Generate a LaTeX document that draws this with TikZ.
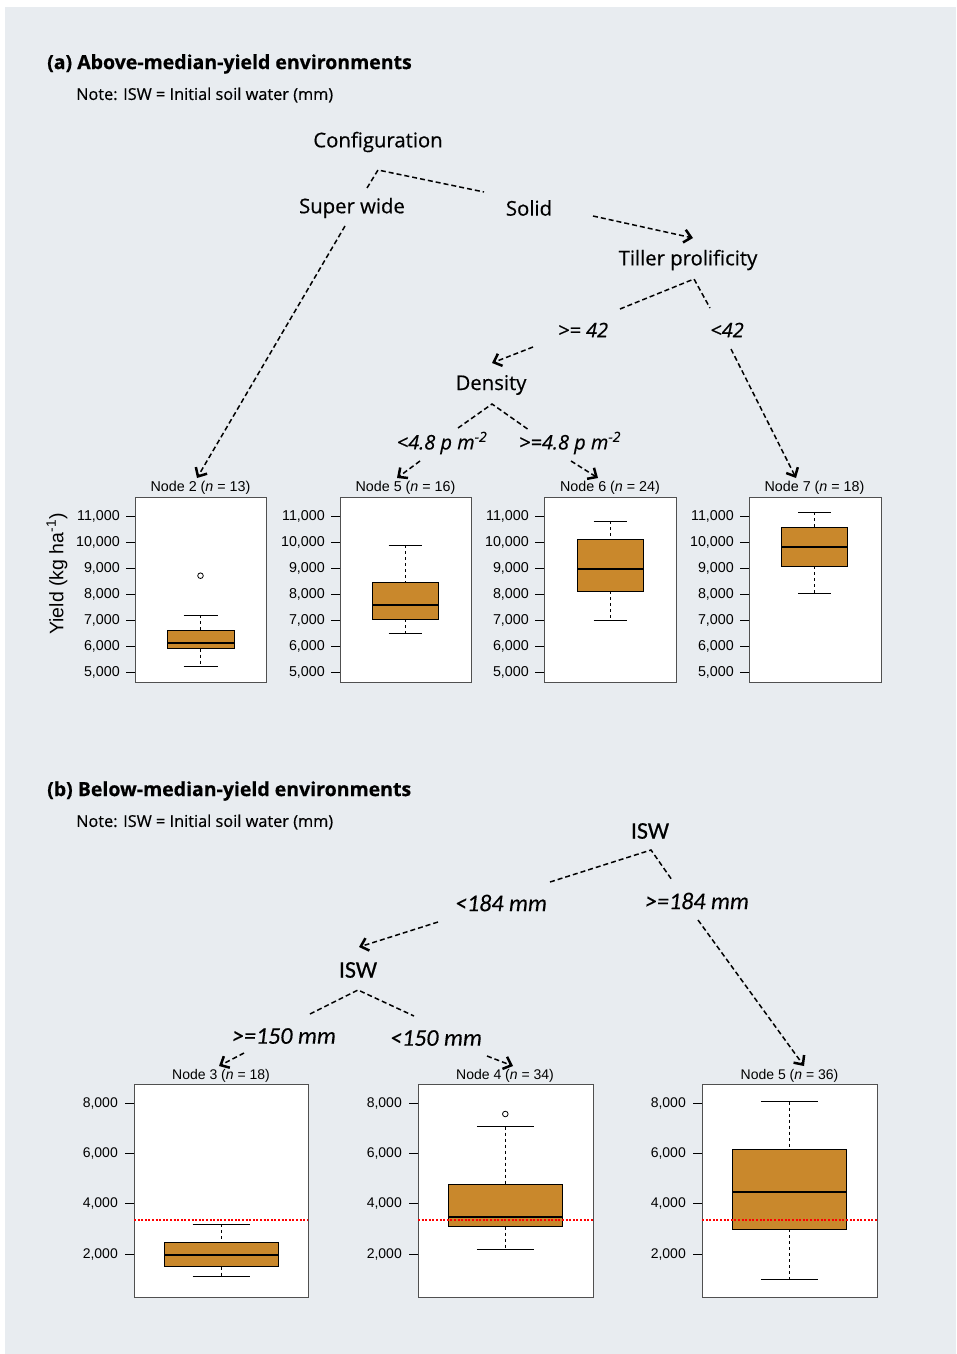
\documentclass[tikz,border=0pt]{standalone}
\usepackage{fontspec}
\setmainfont{Open Sans}[FakeBold=0.5]
\newfontfamily\treefont{Open Sans}[FakeBold=0.5]
\newfontfamily\plotfont{Liberation Sans}
\newfontfamily\calfont{Carlito}[FakeBold=0.3]
\usetikzlibrary{arrows.meta}
\definecolor{panelgray}{RGB}{232,236,240}
\definecolor{boxfill}{RGB}{201,136,44}
\definecolor{framegray}{RGB}{80,80,80}

% centre x, box half width, cap half width, whisker top, box top, median, box bottom, whisker bottom
\newcommand{\boxplt}[8]{%
  \draw[whisk] (#1,#4) -- (#1,#5) (#1,#7) -- (#1,#8);
  \draw[bxcap] (#1-#3,#4) -- (#1+#3,#4) (#1-#3,#8) -- (#1+#3,#8);
  \filldraw[bxbody] (#1-#2,#5) rectangle (#1+#2,#7);
  \draw[bxmed] (#1-#2,#6) -- (#1+#2,#6);}

\begin{document}
\begin{tikzpicture}[x=1pt,y=-1pt,
    split/.style={draw=black,line width=1.5pt,dash pattern=on 5pt off 3pt},
    arr/.style={split,-{Straight Barb[length=7pt,width=13pt,line width=2.5pt]}},
    frame/.style={draw=framegray,line width=1pt,fill=white},
    whisk/.style={draw=black,line width=0.8pt,dash pattern=on 3pt off 3pt},
    bxcap/.style={draw=black,line width=1pt},
    bxbody/.style={draw=black,line width=1pt,fill=boxfill},
    bxmed/.style={draw=black,line width=1.7pt},
    outl/.style={draw=black,line width=0.8pt,fill=white},
    cutoff/.style={draw=red,line width=2pt,dash pattern=on 2pt off 1.6pt},
    tick/.style={draw=black,line width=1pt}]

    \useasboundingbox (0,0) rectangle (956,1354);
    \fill[panelgray] (5,7) rectangle (956,1354);

    % (a) headings
    \node[anchor=west,inner sep=0,font=\fontsize{19.5}{23}\selectfont\bfseries] (ta) at (47,64) {(a) Above-median-yield environments};
    \node[anchor=west,inner sep=0,font=\fontsize{16.3}{19}\treefont] (na) at (76,95) {Note: ISW = Initial soil water (mm)};

    % (a) tree
    \begin{scope}[
        every node/.style={inner sep=1pt,font=\fontsize{20.3}{24}\treefont}
    ]
        \node (cfg) at (378,142) {Configuration};
        \node (sw) at (352,208) {Super wide};
        \node (sol) at (529,208) {Solid};
        \node (till) at (688,260) {Tiller prolificity};
        \node (dens) at (491,385) {Density};
    \end{scope}
    \begin{scope}[
        every node/.style={inner sep=1pt,font=\fontsize{20}{24}\treefont\itshape}
    ]
        \node (ge42) at (583,330) {>= 42};
        \node (lt42) at (727,330) {<42};
        \node (lt48) at (442,443) {<4.8 p m\textsuperscript{-2}};
        \node (ge48) at (570,443) {>=4.8 p m\textsuperscript{-2}};
    \end{scope}

    \coordinate (cfgL) at (367,188);
    \coordinate (cfgA) at (378,170);
    \coordinate (cfgR) at (484,192);
    \coordinate (tilL) at (620,309);
    \coordinate (tilA) at (694,279);
    \coordinate (tilR) at (710,308);
    \coordinate (denL) at (458,428);
    \coordinate (denA) at (492,404);
    \coordinate (denR) at (529,430);
    \draw[split] (cfgL) -- (cfgA) -- (cfgR);
    \draw[split] (tilL) -- (tilA) -- (tilR);
    \draw[split] (denL) -- (denA) -- (denR);

    \coordinate (swS) at (345,226);
    \coordinate (solS) at (593,216);
    \coordinate (tilN) at (693,238);
    \coordinate (ge42S) at (533,347);
    \coordinate (densN) at (492,363);
    \coordinate (lt42S) at (731,349);
    \coordinate (lt48S) at (420,461);
    \coordinate (ge48S) at (571,461);
    \coordinate (n2N) at (197,478);
    \coordinate (n5N) at (397,478);
    \coordinate (n6N) at (598,478);
    \coordinate (n7N) at (796,478);
    \draw[arr] (swS) -- (n2N);
    \draw[arr] (solS) -- (tilN);
    \draw[arr] (ge42S) -- (densN);
    \draw[arr] (lt42S) -- (n7N);
    \draw[arr] (lt48S) -- (n5N);
    \draw[arr] (ge48S) -- (n6N);

    % (a) boxplots
    \begin{scope}[
        every node/.style={inner sep=0,font=\fontsize{14.3}{17}\plotfont}
    ]
        \node (t2) at (200.5,488) {Node 2 (\textit{n} = 13)};
        \node (t5) at (405.5,488) {Node 5 (\textit{n} = 16)};
        \node (t6) at (610,488) {Node 6 (\textit{n} = 24)};
        \node (t7) at (814.5,488) {Node 7 (\textit{n} = 18)};
        \node[rotate=90,font=\fontsize{19.5}{22}\plotfont] (ylab) at (57,574) {Yield (kg ha\textsuperscript{-1})};

        \draw[frame] (135,497) rectangle (266,682);
        \draw[frame] (340,497) rectangle (471,682);
        \draw[frame] (544,497) rectangle (676,682);
        \draw[frame] (749,497) rectangle (881,682);
        \foreach \fx in {135,340,544,749} {
            \foreach \v in {5,...,11} {
                \draw[tick] (\fx,{672-(\v-5)*26}) -- ++(-9,0);
                \node[anchor=east] at (\fx-15,{672-(\v-5)*26}) {\v,000};
            }
        }
    \end{scope}
    \boxplt{200.5}{33.5}{17}{615}{630}{643}{648.5}{666}
    \draw[outl] (200.5,575.7) circle (2.8);
    \boxplt{405}{33}{16.5}{545}{582}{605}{619}{633}
    \boxplt{610}{33}{16.5}{521}{539}{569}{591}{620}
    \boxplt{814.5}{33.2}{16.5}{512}{527}{547.3}{566.3}{593}

    % (b) headings
    \node[anchor=west,inner sep=0,font=\fontsize{19.5}{23}\selectfont\bfseries] (tb) at (47,791) {(b) Below-median-yield environments};
    \node[anchor=west,inner sep=0,font=\fontsize{16.3}{19}\treefont] (nb) at (76,822) {Note: ISW = Initial soil water (mm)};

    % (b) tree
    \begin{scope}[
        every node/.style={inner sep=1pt,font=\fontsize{24}{28}\calfont}
    ]
        \node (isw1) at (650,831) {ISW};
        \node (isw2) at (358,970) {ISW};
        \node[font=\fontsize{24}{28}\calfont\itshape] (lt184) at (501,903) {<184 mm};
        \node[font=\fontsize{24}{28}\calfont\itshape] (ge184) at (697,901) {>=184 mm};
        \node[font=\fontsize{24}{28}\calfont\itshape] (ge150) at (284,1036) {>=150 mm};
        \node[font=\fontsize{24}{28}\calfont\itshape] (lt150) at (436,1038) {<150 mm};
    \end{scope}

    \coordinate (iswL) at (550,882);
    \coordinate (iswA) at (651,850);
    \coordinate (iswR) at (672,880);
    \coordinate (isw2L) at (310,1014);
    \coordinate (isw2A) at (358,990);
    \coordinate (isw2R) at (414,1016);
    \draw[split] (iswL) -- (iswA) -- (iswR);
    \draw[split] (isw2L) -- (isw2A) -- (isw2R);

    \coordinate (lt184S) at (438,922);
    \coordinate (isw2N) at (359,947);
    \coordinate (ge184S) at (698,920);
    \coordinate (ge150S) at (244,1053);
    \coordinate (lt150S) at (487,1056);
    \coordinate (m3N) at (219,1066);
    \coordinate (m4N) at (513,1066);
    \coordinate (m5N) at (804,1066);
    \draw[arr] (lt184S) -- (isw2N);
    \draw[arr] (ge184S) -- (m5N);
    \draw[arr] (ge150S) -- (m3N);
    \draw[arr] (lt150S) -- (m4N);

    % (b) boxplots
    \begin{scope}[
        every node/.style={inner sep=0,font=\fontsize{14}{17}\plotfont}
    ]
        \node (u3) at (221,1076) {Node 3 (\textit{n} = 18)};
        \node (u4) at (505,1076) {Node 4 (\textit{n} = 34)};
        \node (u5) at (789.5,1076) {Node 5 (\textit{n} = 36)};

        \draw[frame] (134,1084) rectangle (308,1297);
        \draw[frame] (418,1084) rectangle (593,1297);
        \draw[frame] (702,1084) rectangle (877,1297);
        \foreach \fx in {134,418,702} {
            \foreach \v in {2,4,6,8} {
                \draw[tick] (\fx,{1254.3-(\v-2)*25.2}) -- ++(-9,0);
                \node[anchor=east] at (\fx-16,{1254.3-(\v-2)*25.2}) {\v,000};
            }
        }
    \end{scope}
    \boxplt{221}{57}{28.5}{1224.3}{1242.3}{1255}{1266.7}{1276.7}
    \boxplt{505.3}{57}{28.5}{1126.7}{1184}{1217.3}{1226.7}{1249.3}
    \draw[outl] (505.3,1114) circle (2.8);
    \boxplt{789.3}{57}{28.5}{1101.7}{1149.3}{1192}{1229}{1279}
    \draw[cutoff] (134,1220) -- (308,1220);
    \draw[cutoff] (418,1220) -- (593,1220);
    \draw[cutoff] (702,1220) -- (877,1220);
\end{tikzpicture}
\end{document}
